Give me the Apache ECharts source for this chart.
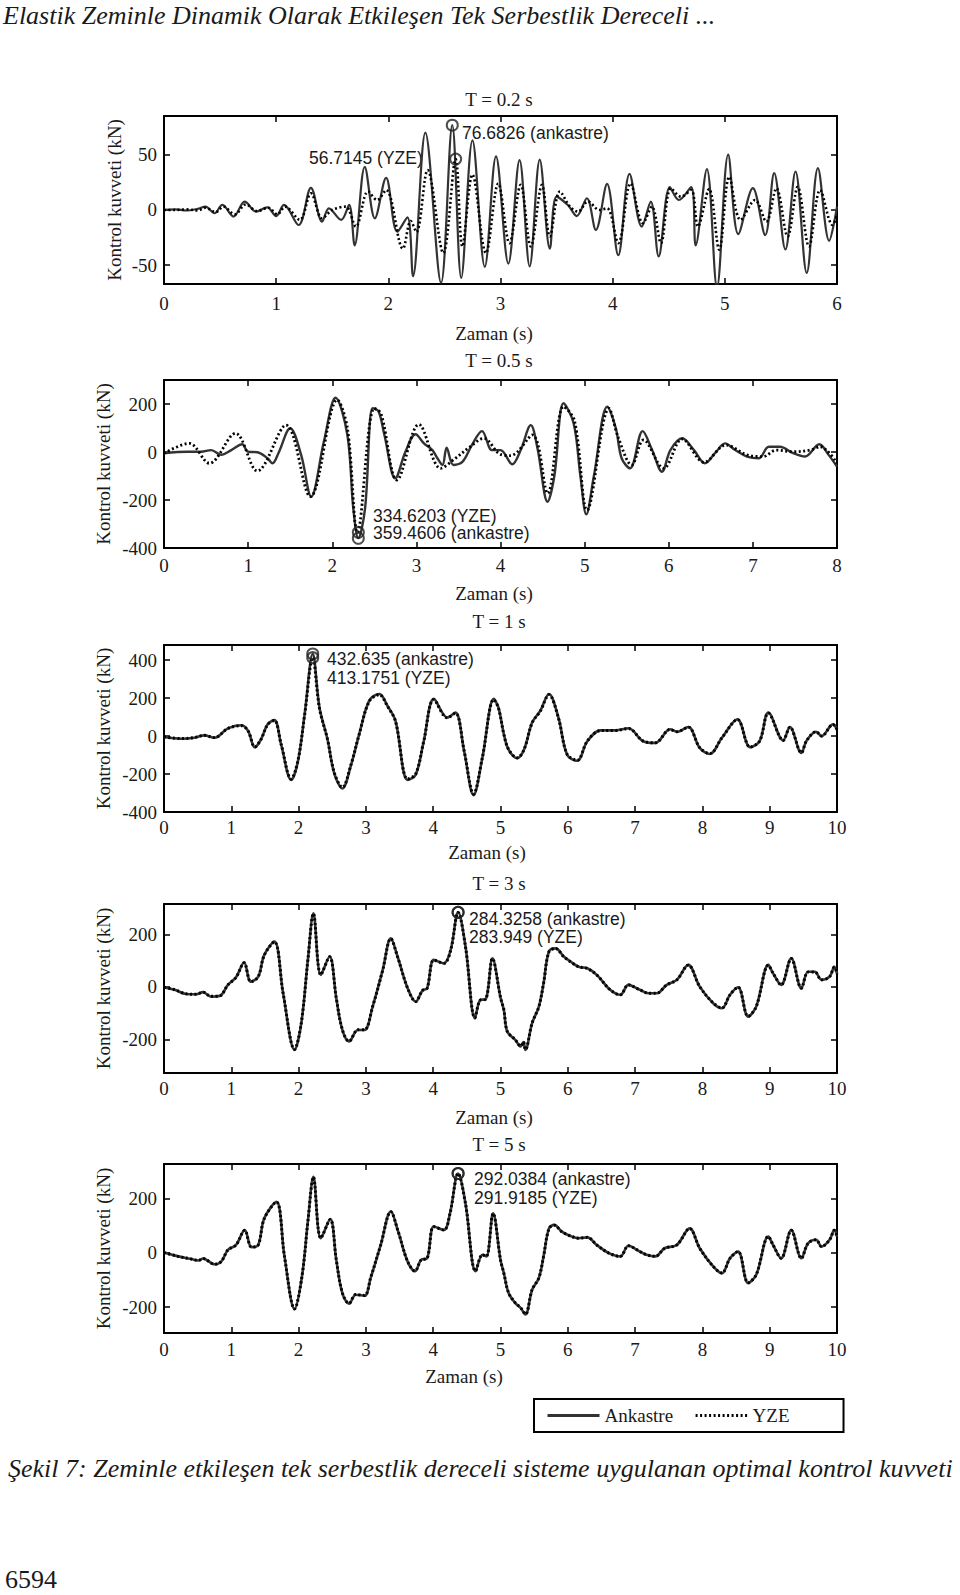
<!DOCTYPE html>
<html><head><meta charset="utf-8">
<script src="https://cdn.jsdelivr.net/npm/echarts@6/dist/echarts.min.js"></script>
<style>html,body{margin:0;padding:0;background:#fff}#c{width:960px;height:1595px}</style>
</head><body><div id="c"></div>
<script>
// ---------------- DATA ----------------
const panelTitles = ['T = 0.2 s', 'T = 0.5 s', 'T = 1 s', 'T = 3 s', 'T = 5 s'];
const xMaxValues = [6, 8, 10, 10, 10];
const yRanges = [[-67, 85], [-400, 300], [-400, 480], [-328, 316], [-295, 327]];
const yTickValues = [[-50, 0, 50], [-400, -200, 0, 200], [-400, -200, 0, 200, 400], [-200, 0, 200], [-200, 0, 200]];
const seriesNames = ['Ankastre', 'YZE'];

// T = 0.2 s
const ankastre02 = [[0,0],[0.1,0.5],[0.2,-0.5],[0.3,1],[0.37,3],[0.45,-3],[0.52,4.5],[0.62,-6],[0.72,7.6],[0.82,-1.5],[0.92,2.4],[1.0,-5.5],[1.07,4.5],[1.2,-13.6],[1.31,20],[1.41,-10.6],[1.47,1.5],[1.58,-9],[1.65,4.5],[1.70,-32],[1.79,39],[1.88,-7.6],[1.98,29],[2.08,-19.7],[2.17,-6.7],[2.22,-60],[2.33,70],[2.47,-66],[2.57,76.7],[2.65,-61.5],[2.75,63],[2.86,-51.5],[2.96,48.5],[3.07,-48.5],[3.17,45],[3.26,-51],[3.35,45.5],[3.44,-35],[3.5,12],[3.6,4.5],[3.68,-5.5],[3.77,10.6],[3.85,-18],[3.95,23.6],[4.05,-41],[4.15,32.7],[4.26,-15],[4.34,7.6],[4.41,-42],[4.51,20.6],[4.59,9],[4.70,20.6],[4.74,-32],[4.84,37],[4.93,-70],[5.03,50],[5.12,-21.8],[5.25,19.7],[5.36,-22.7],[5.44,33.3],[5.54,-35.8],[5.63,34.8],[5.73,-57],[5.83,37.9],[5.93,-27.9],[6.0,3]];
const yze02 = [[0,0],[0.1,0],[0.2,0.5],[0.3,-0.5],[0.37,2],[0.46,-2],[0.53,3],[0.63,-4],[0.73,5],[0.83,-1],[0.93,2],[1.01,-4],[1.08,3],[1.21,-9],[1.31,15],[1.41,-7.6],[1.5,0],[1.62,3],[1.71,-15],[1.82,16.7],[1.9,9],[1.98,18],[2.13,-35],[2.2,-10],[2.25,-20],[2.35,36],[2.49,-39],[2.6,46],[2.66,-33],[2.75,32],[2.87,-39],[2.98,24],[3.08,-30],[3.18,22.7],[3.27,-33],[3.37,22.7],[3.44,-24],[3.53,16.7],[3.62,3],[3.69,-1.5],[3.78,7.6],[3.88,0],[3.95,1.5],[4.05,-30],[4.16,24],[4.27,-12],[4.35,3],[4.43,-30],[4.52,19.7],[4.61,12],[4.70,18],[4.76,-15],[4.86,19],[4.95,-36],[5.04,30],[5.14,-9],[5.27,9],[5.37,-10.6],[5.46,19.7],[5.56,-24],[5.65,21],[5.75,-33],[5.85,18],[5.96,-13.6],[6.0,-5]];

// T = 0.5 s
const ankastre05 = [[0,-5],[0.28,1],[0.44,1],[0.56,8],[0.68,-12],[0.80,8],[0.93,32],[1.0,1],[1.11,-1],[1.23,-26],[1.29,-47],[1.36,-5],[1.5,99],[1.63,-12],[1.75,-186],[1.9,43],[2.04,226],[2.18,71],[2.25,-235],[2.31,-359],[2.39,-235],[2.48,182],[2.55,170],[2.62,71],[2.75,-110],[2.87,1],[2.99,74],[3.09,36],[3.19,8],[3.25,-26],[3.31,-54],[3.36,18],[3.44,-54],[3.55,-40],[3.66,29],[3.78,87],[3.9,8],[4.0,8],[4.14,-51],[4.24,8],[4.36,112],[4.44,15],[4.56,-207],[4.64,-100],[4.75,203],[4.87,119],[4.95,-100],[5.02,-260],[5.11,-100],[5.27,189],[5.37,100],[5.44,-26],[5.54,-68],[5.69,87],[5.80,10],[5.92,-82],[6.02,8],[6.16,57],[6.30,8],[6.43,-47],[6.55,-5],[6.67,36],[6.79,8],[6.93,-19],[7.07,-26],[7.19,22],[7.32,22],[7.48,-5],[7.62,-19],[7.79,32],[7.90,-12],[8.0,-61]];
const yze05 = [[0,-5],[0.30,36],[0.54,-47],[0.85,78],[1.11,-79],[1.45,112],[1.74,-186],[2.06,217],[2.18,100],[2.30,-335],[2.50,182],[2.58,160],[2.77,-117],[3.03,115],[3.29,-68],[3.45,-30],[3.64,22],[3.80,57],[4.0,-10],[4.12,-15],[4.38,71],[4.56,-172],[4.75,189],[4.88,130],[5.03,-242],[5.29,182],[5.40,60],[5.56,-54],[5.70,50],[5.94,-68],[6.16,54],[6.42,-43],[6.68,29],[6.93,-12],[7.12,-19],[7.28,8],[7.48,1],[7.68,8],[7.80,22],[8.0,-47]];

// T = 1 s
const ankastre1 = [[0,-5],[0.26,-14],[0.45,-9],[0.6,4],[0.75,-9],[0.95,41],[1.15,57],[1.25,27],[1.35,-59],[1.44,-18],[1.54,62],[1.64,84],[1.74,-44],[1.89,-231],[1.99,-133],[2.09,116],[2.21,432.6],[2.31,151],[2.43,-18],[2.53,-196],[2.65,-276],[2.78,-151],[2.9,9],[3.05,187],[3.2,222],[3.32,160],[3.44,80],[3.62,-231],[3.74,-204],[3.86,-27],[4.01,196],[4.21,98],[4.33,124],[4.46,-80],[4.6,-311],[4.73,-116],[4.9,196],[4.97,150],[5.05,10],[5.12,-71],[5.25,-116],[5.35,-71],[5.47,71],[5.59,133],[5.72,222],[5.86,98],[5.99,-98],[6.14,-130],[6.29,-27],[6.49,30],[6.71,30],[6.9,41],[7.12,-27],[7.3,-36],[7.52,36],[7.62,23],[7.79,48],[7.96,-62],[8.11,-94],[8.29,-9],[8.52,89],[8.71,-59],[8.85,-27],[8.98,124],[9.2,-23],[9.3,48],[9.47,-89],[9.55,-23],[9.69,23],[9.77,0],[9.94,62],[10,36]];
const yze1 = [[0,-4],[0.26,-13],[0.45,-8],[0.6,4],[0.75,-8],[0.95,40],[1.15,55],[1.25,27],[1.35,-57],[1.44,-18],[1.54,60],[1.64,82],[1.74,-42],[1.89,-226],[1.99,-130],[2.09,112],[2.21,413.2],[2.31,146],[2.43,-18],[2.53,-192],[2.65,-270],[2.78,-148],[2.9,9],[3.05,183],[3.2,218],[3.32,157],[3.44,78],[3.62,-226],[3.74,-200],[3.86,-26],[4.01,192],[4.21,96],[4.33,121],[4.46,-78],[4.6,-305],[4.73,-114],[4.9,192],[4.97,147],[5.05,9],[5.12,-70],[5.25,-114],[5.35,-70],[5.47,70],[5.59,130],[5.72,218],[5.86,96],[5.99,-96],[6.14,-127],[6.29,-26],[6.49,29],[6.71,29],[6.9,40],[7.12,-26],[7.3,-35],[7.52,35],[7.62,23],[7.79,47],[7.96,-61],[8.11,-92],[8.29,-9],[8.52,87],[8.71,-58],[8.85,-26],[8.98,121],[9.2,-23],[9.3,47],[9.47,-87],[9.55,-23],[9.69,23],[9.77,0],[9.94,61],[10,35]];

// T = 3 s
const ankastre3 = [[0,-1],[0.16,-11],[0.33,-27],[0.48,-28],[0.58,-20],[0.70,-37],[0.83,-34],[0.95,8],[1.07,37],[1.19,93],[1.29,20],[1.40,39],[1.49,122],[1.64,173],[1.77,-24],[1.94,-240],[2.04,-138],[2.14,109],[2.22,281],[2.33,46],[2.46,116],[2.56,-43],[2.65,-164],[2.75,-208],[2.88,-164],[2.98,-164],[3.10,-75],[3.25,65],[3.37,185],[3.47,116],[3.62,-5],[3.74,-56],[3.84,-14],[3.91,-5],[4.01,103],[4.16,90],[4.26,141],[4.37,284.3],[4.48,154],[4.62,-119],[4.70,-50],[4.78,-47],[4.88,109],[5.0,-40],[5.05,-88],[5.1,-170],[5.22,-202],[5.30,-227],[5.34,-210],[5.37,-240],[5.47,-138],[5.57,-75],[5.64,14],[5.72,135],[5.82,147],[5.94,116],[6.04,97],[6.16,77],[6.29,71],[6.43,46],[6.63,-11],[6.78,-30],[6.90,8],[7.07,-11],[7.20,-24],[7.32,-24],[7.47,8],[7.62,27],[7.79,84],[7.96,1],[8.16,-62],[8.29,-81],[8.41,-30],[8.53,-1],[8.68,-113],[8.80,-75],[8.98,84],[9.05,52],[9.17,8],[9.32,109],[9.47,-5],[9.57,58],[9.67,58],[9.77,27],[9.89,39],[9.96,77],[10,50]];
const yze3 = [[0,-1],[0.16,-11],[0.33,-26],[0.48,-28],[0.58,-20],[0.70,-36],[0.83,-34],[0.95,8],[1.07,36],[1.19,92],[1.29,20],[1.40,39],[1.49,121],[1.64,172],[1.77,-24],[1.94,-238],[2.04,-137],[2.14,108],[2.22,280],[2.33,46],[2.46,115],[2.56,-43],[2.65,-163],[2.75,-207],[2.88,-163],[2.98,-163],[3.10,-75],[3.25,64],[3.37,184],[3.47,115],[3.62,-5],[3.74,-56],[3.84,-14],[3.91,-5],[4.01,102],[4.16,90],[4.26,140],[4.37,283.9],[4.48,153],[4.62,-118],[4.70,-50],[4.78,-47],[4.88,108],[5.0,-40],[5.05,-87],[5.1,-169],[5.22,-201],[5.30,-226],[5.34,-209],[5.37,-239],[5.47,-137],[5.57,-75],[5.64,14],[5.72,134],[5.82,146],[5.94,115],[6.04,96],[6.16,77],[6.29,70],[6.43,46],[6.63,-11],[6.78,-30],[6.90,8],[7.07,-11],[7.20,-24],[7.32,-24],[7.47,8],[7.62,27],[7.79,83],[7.96,1],[8.16,-61],[8.29,-80],[8.41,-30],[8.53,-1],[8.68,-112],[8.80,-75],[8.98,83],[9.05,52],[9.17,8],[9.32,108],[9.47,-5],[9.57,57],[9.67,57],[9.77,27],[9.89,39],[9.96,76],[10,50]];

// T = 5 s
const ankastre5 = [[0,1],[0.21,-13],[0.41,-23],[0.51,-28],[0.58,-21],[0.75,-42],[0.85,-32],[0.95,11],[1.07,29],[1.2,84],[1.30,21],[1.40,29],[1.49,127],[1.67,188],[1.79,-13],[1.94,-207],[2.05,-87],[2.14,121],[2.22,280],[2.33,54],[2.47,124],[2.56,-26],[2.65,-148],[2.75,-187],[2.85,-154],[2.98,-158],[3.07,-93],[3.22,29],[3.37,152],[3.48,78],[3.62,-32],[3.73,-68],[3.82,-26],[3.91,-20],[4.01,97],[4.16,84],[4.25,146],[4.37,292],[4.48,182],[4.63,-68],[4.73,-7],[4.79,-13],[4.89,146],[5.0,-26],[5.05,-75],[5.12,-148],[5.22,-185],[5.30,-203],[5.37,-227],[5.47,-136],[5.57,-93],[5.64,-13],[5.72,90],[5.80,103],[5.91,78],[6.04,62],[6.16,54],[6.29,57],[6.43,29],[6.61,-1],[6.78,-13],[6.90,26],[7.07,5],[7.17,-7],[7.30,-13],[7.44,17],[7.62,29],[7.81,90],[7.96,17],[8.16,-50],[8.29,-75],[8.41,-20],[8.53,5],[8.68,-111],[8.80,-81],[8.98,60],[9.05,29],[9.17,-20],[9.32,84],[9.47,-20],[9.57,35],[9.69,48],[9.77,23],[9.89,48],[9.96,84],[10,60]];
const yze5 = [[0,1],[0.21,-13],[0.41,-23],[0.51,-28],[0.58,-21],[0.75,-42],[0.85,-32],[0.95,11],[1.07,29],[1.2,83],[1.30,21],[1.40,29],[1.49,126],[1.67,187],[1.79,-13],[1.94,-206],[2.05,-87],[2.14,120],[2.22,279],[2.33,54],[2.47,123],[2.56,-26],[2.65,-147],[2.75,-186],[2.85,-153],[2.98,-157],[3.07,-92],[3.22,29],[3.37,151],[3.48,78],[3.62,-32],[3.73,-67],[3.82,-26],[3.91,-20],[4.01,96],[4.16,84],[4.25,145],[4.37,291.9],[4.48,181],[4.63,-67],[4.73,-7],[4.79,-13],[4.89,145],[5.0,-26],[5.05,-75],[5.12,-147],[5.22,-184],[5.30,-202],[5.37,-226],[5.47,-135],[5.57,-92],[5.64,-13],[5.72,89],[5.80,102],[5.91,78],[6.04,62],[6.16,54],[6.29,57],[6.43,29],[6.61,-1],[6.78,-13],[6.90,26],[7.07,5],[7.17,-7],[7.30,-13],[7.44,17],[7.62,29],[7.81,89],[7.96,17],[8.16,-50],[8.29,-74],[8.41,-20],[8.53,5],[8.68,-110],[8.80,-80],[8.98,60],[9.05,29],[9.17,-20],[9.32,83],[9.47,-20],[9.57,35],[9.69,48],[9.77,23],[9.89,48],[9.96,83],[10,60]];

// marked peaks [time, value]
const peaks02 = [[2.57, 76.68], [2.60, 46]];
const peaks05 = [[2.31, -359.46], [2.31, -334.62]];
const peaks1 = [[2.21, 432.64], [2.21, 413.18]];
const peaks3 = [[4.37, 284.33], [4.37, 283.95]];
const peaks5 = [[4.37, 292.04], [4.37, 291.92]];

const peakTexts = [
  ['76.6826 (ankastre)', '56.7145 (YZE)'],
  ['334.6203 (YZE)', '359.4606 (ankastre)'],
  ['432.635 (ankastre)', '413.1751 (YZE)'],
  ['284.3258 (ankastre)', '283.949 (YZE)'],
  ['292.0384 (ankastre)', '291.9185 (YZE)']
];
const xAxisName = 'Zaman (s)';
const yAxisName = 'Kontrol kuvveti (kN)';
const headerText = 'Elastik Zeminle Dinamik Olarak Etkileşen Tek Serbestlik Dereceli ...';
const captionText = 'Şekil 7: Zeminle etkileşen tek serbestlik dereceli sisteme uygulanan optimal kontrol kuvveti';
const pageNumber = '6594';

// ---------------- LAYOUT ----------------
const ankData = [ankastre02, ankastre05, ankastre1, ankastre3, ankastre5];
const yzeData = [yze02, yze05, yze1, yze3, yze5];
const peakData = [peaks02, peaks05, peaks1, peaks3, peaks5];

const grids = [
  {top: 116, height: 168}, {top: 380, height: 168}, {top: 645, height: 167},
  {top: 904, height: 169}, {top: 1164, height: 169}
];
const xLabelMargins = [10, 8, 6, 6, 7];
const titlePos = [99, 360, 621, 883, 1144];
const xNamePos = [[494, 333], [494, 593], [487, 852], [494, 1117], [464, 1376]];
const yNameX = [114, 103, 103, 103, 103];
const peakTextPos = [
  [[462, 133], [309, 158]],
  [[373, 516], [373, 533]],
  [[327, 659], [327, 678]],
  [[469, 919], [469, 937]],
  [[474, 1179], [474, 1198]]
];
const lineWidths = [2.2, 2.4, 2.6, 2.6, 2.6];

const SERIF = '"Liberation Serif", "Times New Roman", serif';
const SANS = '"Liberation Sans", Arial, sans-serif';
const INK = '#1a1a1a';
const SOLID = '#333';
const DOT = '#000';

const gridOpts = [], xAxes = [], yAxes = [], series = [], graphics = [];
grids.forEach((g, i) => {
  gridOpts.push({left: 164, right: 123, top: g.top, height: g.height, show: false});
  const tick = {show: true, inside: true, length: 6, lineStyle: {color: '#000', width: 1.5}};
  const line = {show: true, onZero: false, lineStyle: {color: '#000', width: 2}};
  xAxes.push({gridIndex: i, type: 'value', position: 'bottom', min: 0, max: xMaxValues[i], interval: 1,
    axisLine: line, axisTick: tick, splitLine: {show: false},
    axisLabel: {color: INK, fontFamily: SERIF, fontSize: 19, margin: xLabelMargins[i]}});
  xAxes.push({gridIndex: i, type: 'value', position: 'top', min: 0, max: xMaxValues[i], interval: 1,
    axisLine: line, axisTick: tick, splitLine: {show: false}, axisLabel: {show: false}});
  yAxes.push({gridIndex: i, type: 'value', position: 'left', min: yRanges[i][0], max: yRanges[i][1],
    axisLine: line, axisTick: Object.assign({customValues: yTickValues[i]}, tick), splitLine: {show: false},
    axisLabel: {customValues: yTickValues[i], color: INK, fontFamily: SERIF, fontSize: 19, margin: 7}});
  yAxes.push({gridIndex: i, type: 'value', position: 'right', min: yRanges[i][0], max: yRanges[i][1],
    axisLine: line, axisTick: Object.assign({customValues: yTickValues[i]}, tick), splitLine: {show: false},
    axisLabel: {show: false}});

  series.push({name: seriesNames[0], type: 'line', xAxisIndex: 2 * i, yAxisIndex: 2 * i,
    data: ankData[i], symbol: 'none', smooth: 0.35, z: 2, color: SOLID,
    itemStyle: {color: SOLID}, lineStyle: {color: SOLID, width: lineWidths[i]}});
  series.push({name: seriesNames[1], type: 'line', xAxisIndex: 2 * i, yAxisIndex: 2 * i,
    data: yzeData[i], symbol: 'none', smooth: 0.35, z: 3, color: DOT,
    itemStyle: {color: DOT}, lineStyle: {color: DOT, width: lineWidths[i] + 0.4, type: [2, 2.5]}});
  series.push({name: 'peak' + i, type: 'scatter', xAxisIndex: 2 * i, yAxisIndex: 2 * i,
    data: peakData[i], symbol: 'circle', symbolSize: 11, z: 4,
    itemStyle: {color: 'rgba(0,0,0,0)', borderColor: '#222', borderWidth: 2}});

  graphics.push({type: 'text', x: 499, y: titlePos[i],
    style: {text: panelTitles[i], font: '19px ' + SERIF, fill: INK, align: 'center', verticalAlign: 'middle'}});
  graphics.push({type: 'text', x: xNamePos[i][0], y: xNamePos[i][1],
    style: {text: xAxisName, font: '19px ' + SERIF, fill: INK, align: 'center', verticalAlign: 'middle'}});
  graphics.push({type: 'text', x: yNameX[i], y: g.top + g.height / 2, rotation: Math.PI / 2,
    style: {text: yAxisName, font: '19px ' + SERIF, fill: INK, align: 'center', verticalAlign: 'middle'}});
  peakTexts[i].forEach((t, k) => {
    graphics.push({type: 'text', x: peakTextPos[i][k][0], y: peakTextPos[i][k][1],
      style: {text: t, font: '17.5px ' + SANS, fill: INK, align: 'left', verticalAlign: 'middle'}});
  });
});

graphics.push({type: 'text', x: 3, y: 15,
  style: {text: headerText, font: 'italic 26px ' + SERIF, fill: INK, align: 'left', verticalAlign: 'middle'}});
graphics.push({type: 'text', x: 8, y: 1468,
  style: {text: captionText, font: 'italic 26px ' + SERIF, fill: INK, align: 'left', verticalAlign: 'middle'}});
graphics.push({type: 'text', x: 5, y: 1579,
  style: {text: pageNumber, font: '26px ' + SERIF, fill: INK, align: 'left', verticalAlign: 'middle'}});

const chart = echarts.init(document.getElementById('c'), null, {renderer: 'svg'});
chart.setOption({
  animation: false,
  backgroundColor: '#fff',
  grid: gridOpts,
  xAxis: xAxes,
  yAxis: yAxes,
  series: series,
  legend: {
    data: seriesNames, left: 534, top: 1399, orient: 'horizontal',
    padding: [7, 54, 7, 12], itemGap: 21, itemWidth: 52, itemHeight: 14,
    borderColor: '#000', borderWidth: 2,
    itemStyle: {opacity: 0},
    lineStyle: {width: 3},
    textStyle: {fontFamily: SERIF, fontSize: 19, color: INK}
  },
  graphic: graphics
});
</script></body></html>
